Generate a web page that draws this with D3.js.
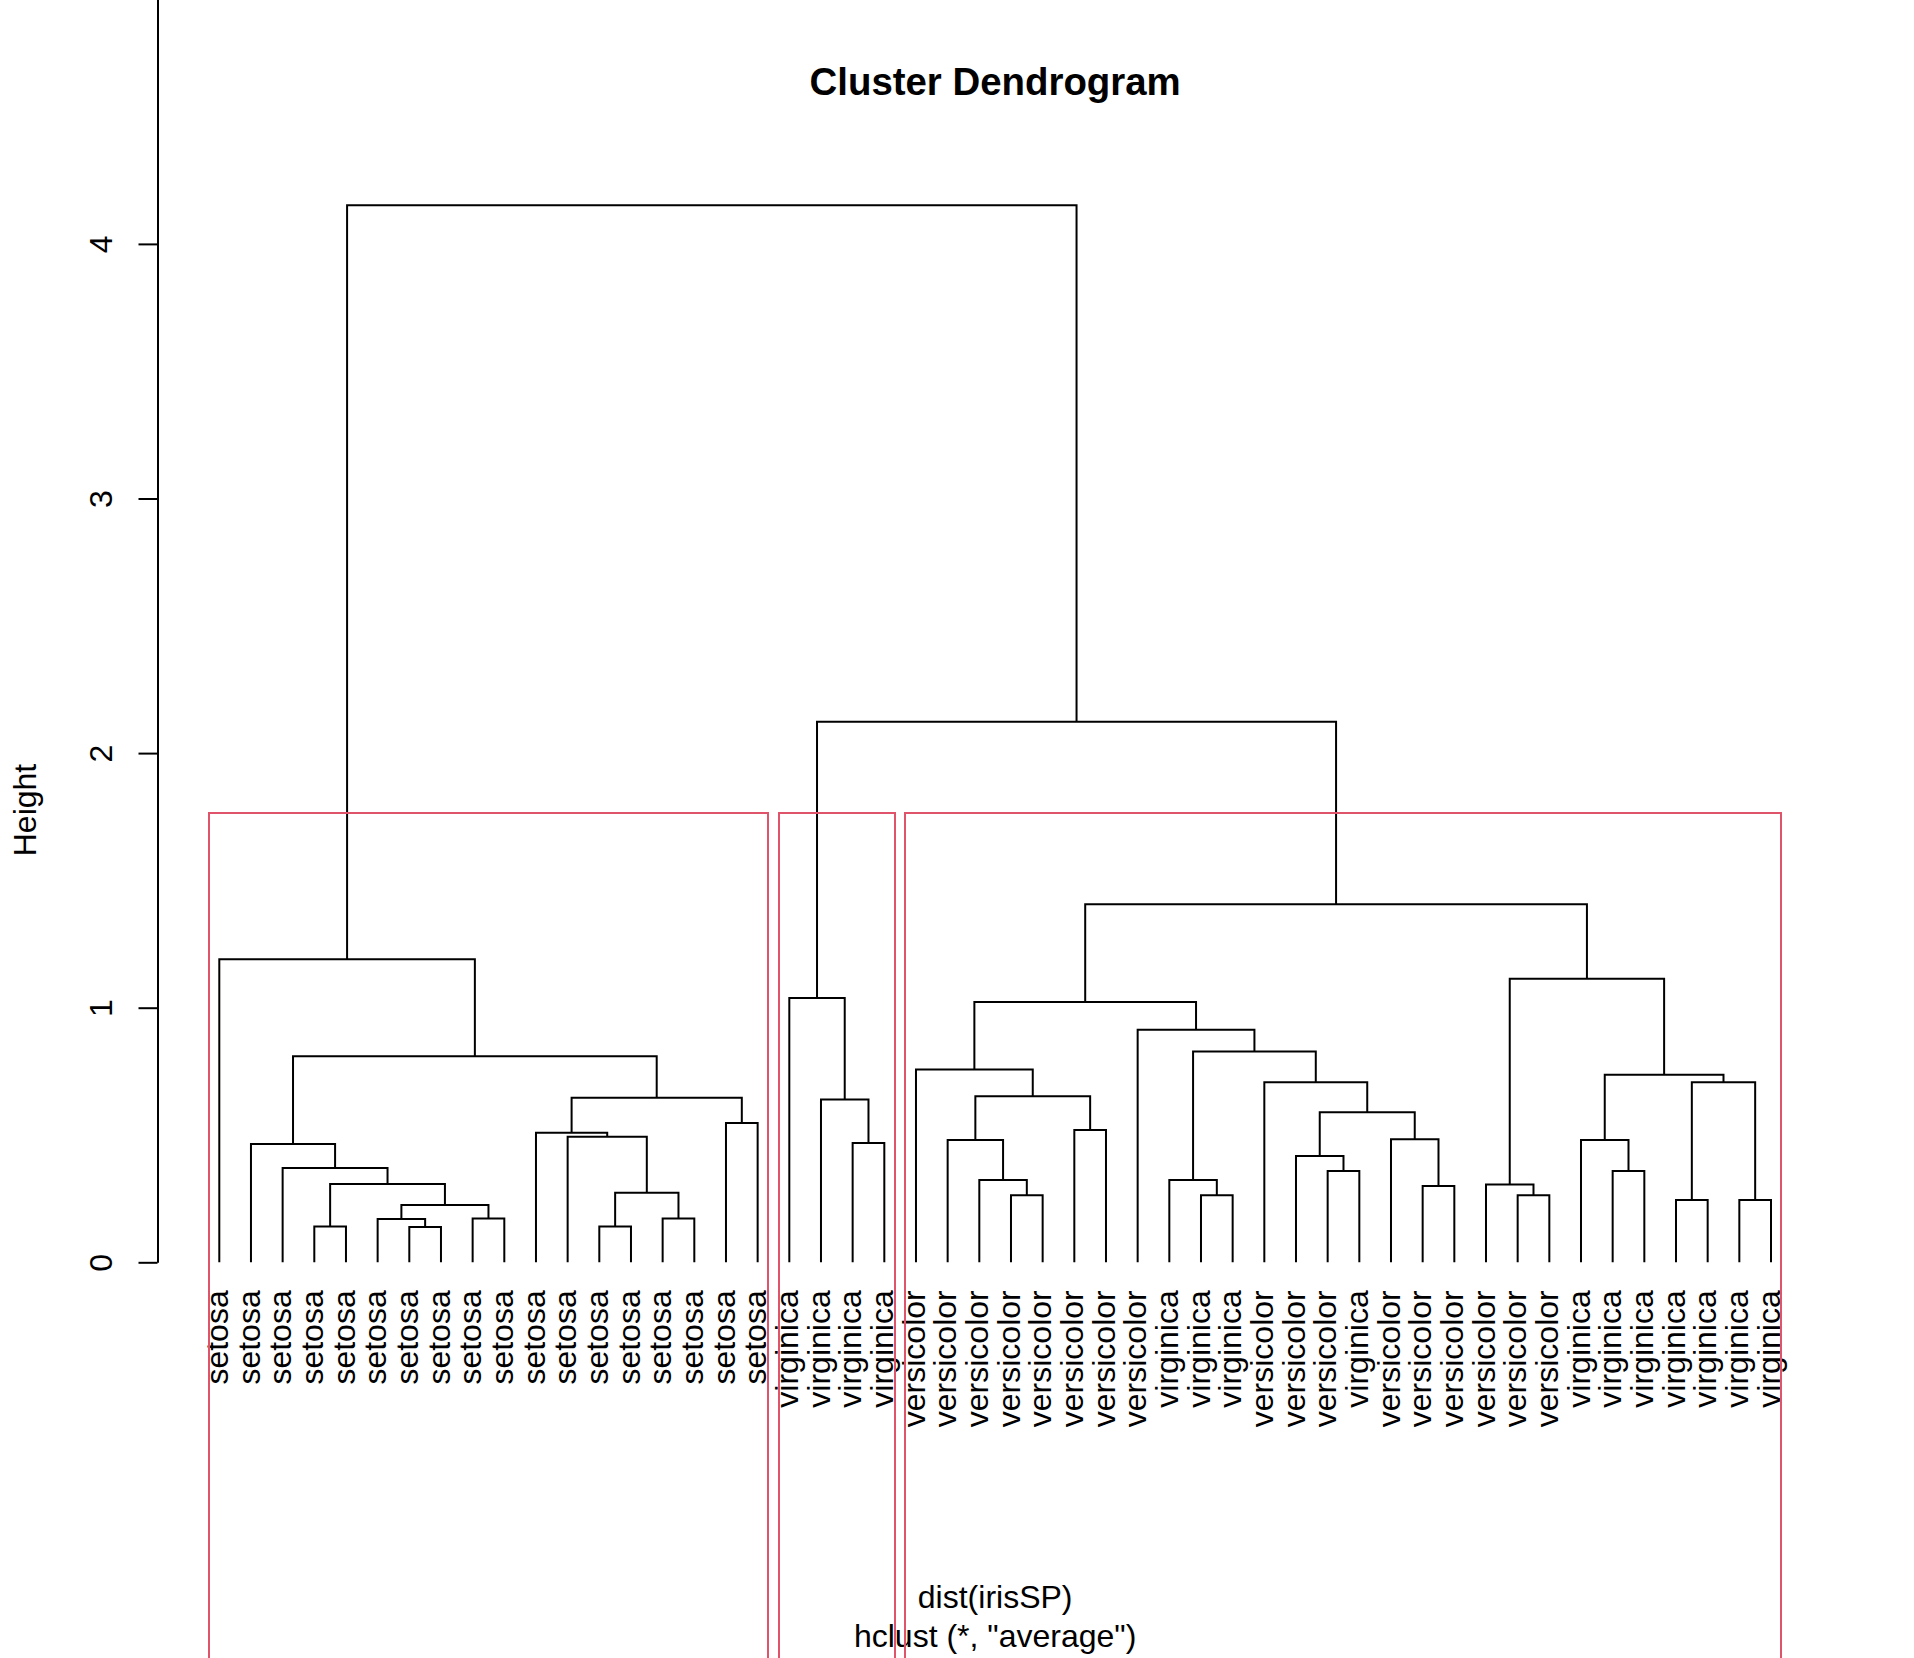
<!DOCTYPE html>
<html><head><meta charset="utf-8">
<script src="https://cdn.jsdelivr.net/npm/d3@7"></script>
<style>
body{margin:0;background:#fff}
svg{display:block}
text{font-family:"Liberation Sans",Arial,Helvetica,sans-serif;fill:#000}
</style>
</head><body>
<svg id="chart" width="1914" height="1658"></svg>
<script>
// ---- data ----
const leafLabels = [
  "setosa","setosa","setosa","setosa","setosa","setosa","setosa","setosa","setosa",
  "setosa","setosa","setosa","setosa","setosa","setosa","setosa","setosa","setosa",
  "virginica","virginica","virginica","virginica",
  "versicolor","versicolor","versicolor","versicolor","versicolor","versicolor","versicolor","versicolor",
  "virginica","virginica","virginica",
  "versicolor","versicolor","versicolor",
  "virginica",
  "versicolor","versicolor","versicolor","versicolor","versicolor","versicolor",
  "virginica","virginica","virginica","virginica","virginica","virginica","virginica"
];
// R-style merge matrix: negative = leaf position (1-based, in plot order), positive = earlier merge
const merges = [
  [-4,-5],[-7,-8],[-6,2],[-9,-10],[3,4],[1,5],[-3,6],[-2,7],
  [-13,-14],[-15,-16],[9,10],[-12,11],[-11,12],[-17,-18],[13,14],[8,15],[-1,16],
  [-21,-22],[-20,18],[-19,19],
  [-26,-27],[-25,21],[-24,22],[-28,-29],[23,24],[-23,25],
  [-32,-33],[-31,27],[-36,-37],[-35,29],[-39,-40],[-38,31],[30,32],[-34,33],[28,34],[-30,35],[26,36],
  [-42,-43],[-41,38],[-45,-46],[-44,40],[-47,-48],[-49,-50],[42,43],[41,44],[39,45],
  [37,46],[20,47],[17,48]
];
const mergeHeights = [
  0.141,0.139,0.170,0.172,0.225,0.308,0.370,0.465,
  0.141,0.172,0.273,0.493,0.509,0.547,0.646,0.809,1.190,
  0.469,0.639,1.038,
  0.263,0.323,0.480,0.520,0.652,0.757,
  0.263,0.323,0.359,0.418,0.300,0.483,0.589,0.707,0.828,0.913,1.022,
  0.263,0.306,0.359,0.480,0.245,0.245,0.707,0.737,1.114,
  1.406,2.123,4.152
];
const yTicks = [0,1,2,3,4];
const numClusters = 3;
const titleText = "Cluster Dendrogram";
const subText = ["dist(irisSP)", 'hclust (*, "average")'];
const yLabel = "Height";

// ---- layout ----
const W = 1914, H = 1658;
const svg = d3.select("#chart");
const n = leafLabels.length;
const x = d3.scaleLinear().domain([1, n]).range([219.3, 1771]);
const y = d3.scaleLinear().domain([0, 4]).range([1262.3, 243.9]);
const axisX = 157.5;

// node positions
const nodeX = [], nodeMin = [], nodeMax = [];
function info(ref){
  return ref < 0 ? {x: -ref, h: 0, mn: -ref, mx: -ref}
                 : {x: nodeX[ref-1], h: mergeHeights[ref-1], mn: nodeMin[ref-1], mx: nodeMax[ref-1]};
}
merges.forEach(([a,b], i) => {
  const A = info(a), B = info(b);
  nodeX[i] = (A.x + B.x) / 2;
  nodeMin[i] = Math.min(A.mn, B.mn);
  nodeMax[i] = Math.max(A.mx, B.mx);
});

// dendrogram
const gTree = svg.append("g").attr("fill","none").attr("stroke","#000").attr("stroke-width",2);
merges.forEach(([a,b], i) => {
  const A = info(a), B = info(b), h = mergeHeights[i];
  const p = d3.path();
  p.moveTo(x(A.x), y(A.h));
  p.lineTo(x(A.x), y(h));
  p.lineTo(x(B.x), y(h));
  p.lineTo(x(B.x), y(B.h));
  gTree.append("path").attr("d", p.toString());
});

// leaf labels
const labelEnd = y(0) + 28;
svg.append("g").selectAll("text").data(leafLabels).join("text")
  .attr("transform", (d,i) => `translate(${x(i+1)},${labelEnd}) rotate(-90)`)
  .attr("text-anchor","end")
  .attr("dy","0.27em")
  .attr("font-size", 32)
  .text(d => d);

// y axis
const yAxisScale = y.copy().domain([0, y.invert(-5)]).range([y(0), -5]);
const gAxis = svg.append("g").attr("transform", `translate(${axisX},0)`)
  .call(d3.axisLeft(yAxisScale).tickValues(yTicks).tickSize(19).tickSizeOuter(0).tickFormat(d3.format("d")));
gAxis.select(".domain").attr("stroke","#000").attr("stroke-width",2);
gAxis.selectAll(".tick line").attr("stroke","#000").attr("stroke-width",2);
gAxis.selectAll(".tick text")
  .attr("x", null).attr("dy", null)
  .attr("transform","translate(-45.5,0) rotate(-90)")
  .attr("text-anchor","middle")
  .attr("font-size", 32)
  .attr("font-family", '"Liberation Sans",Arial,Helvetica,sans-serif')
  .attr("fill","#000");

svg.append("text")
  .attr("transform", `translate(36,810) rotate(-90)`)
  .attr("text-anchor","middle").attr("font-size",32).text(yLabel);

// title & subtitle
const cx = (x(1) + x(n)) / 2;
svg.append("text").attr("x", cx).attr("y", 95).attr("text-anchor","middle")
  .attr("font-size", 38.4).attr("font-weight","bold").text(titleText);
svg.append("g").selectAll("text").data(subText).join("text")
  .attr("x", cx).attr("y", (d,i) => 1608 + i*38.8).attr("text-anchor","middle")
  .attr("font-size", 32).text(d => d);

// rect.hclust (k = 3)
const sortedH = mergeHeights.slice().sort((a,b)=>b-a);
const cutH = (sortedH[numClusters-2] + sortedH[numClusters-1]) / 2;
const clusters = [];
(function walk(ref){
  const I = info(ref);
  if (I.h > cutH) { const [a,b] = merges[ref-1]; walk(a); walk(b); }
  else clusters.push([I.mn, I.mx]);
})(merges.length);
svg.append("g").selectAll("rect").data(clusters).join("rect")
  .attr("x", d => Math.round(x(d[0] - 0.34)))
  .attr("width", d => Math.round(x(d[1] + 0.33)) - Math.round(x(d[0] - 0.34)))
  .attr("y", Math.round(y(cutH)))
  .attr("height", H + 20 - Math.round(y(cutH)))
  .attr("fill","none").attr("stroke","#DF536B").attr("stroke-width",2);
</script>
</body></html>
